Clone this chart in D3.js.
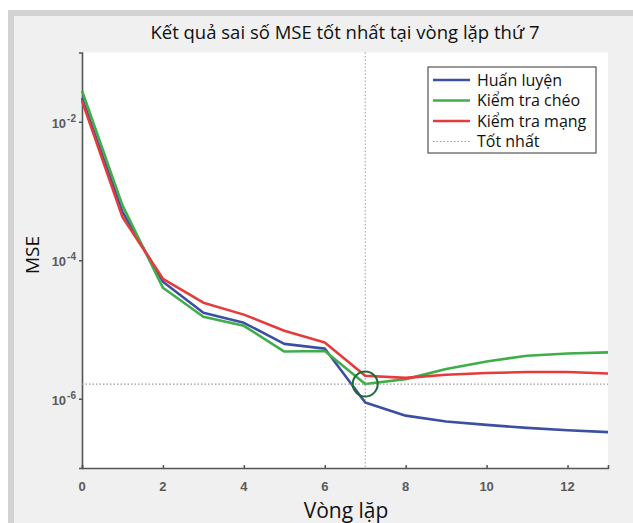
<!DOCTYPE html>
<html>
<head>
<meta charset="utf-8">
<script src="https://cdn.jsdelivr.net/npm/d3@7.9.0/dist/d3.min.js"></script>
<style>
  html, body { margin: 0; padding: 0; background: #fff; }
  svg { display: block; }
  .tick-label { font-family: "Liberation Sans", Arial, sans-serif; font-weight: bold; fill: #5a5a5a; }
  .txt { font-family: "Open Sans", "Noto Sans", sans-serif; fill: #111; }
</style>
</head>
<body>
<svg id="chart" width="633" height="523"></svg>
<script>
// epochs and MSE per dataset
const epochs = [0, 1, 2, 3, 4, 5, 6, 7, 8, 9, 10, 11, 12, 13];
const trainMSE = [2.2e-2, 5.0e-4, 4.9e-5, 1.75e-5, 1.25e-5, 6.2e-6, 5.3e-6, 8.8e-7, 5.7e-7, 4.7e-7, 4.2e-7, 3.8e-7, 3.5e-7, 3.3e-7];
const valMSE   = [2.8e-2, 6.2e-4, 4.0e-5, 1.53e-5, 1.13e-5, 4.8e-6, 4.9e-6, 1.63e-6, 1.92e-6, 2.69e-6, 3.46e-6, 4.18e-6, 4.5e-6, 4.67e-6];
const testMSE  = [2.0e-2, 4.2e-4, 5.4e-5, 2.44e-5, 1.64e-5, 9.6e-6, 6.5e-6, 2.15e-6, 2.0e-6, 2.22e-6, 2.35e-6, 2.43e-6, 2.43e-6, 2.32e-6];

const seriesNames = ['Huấn luyện', 'Kiểm tra chéo', 'Kiểm tra mạng', 'Tốt nhất'];
const seriesColors = ['#3d4fa3', '#3fae49', '#e63a3b', '#9a9a9a'];

const xTicks = [0, 2, 4, 6, 8, 10, 12];
const yTickExp = [-2, -4, -6];
const bestEpoch = 7;

const svg = d3.select('#chart');

// background frame
svg.append('rect').attr('x', 0).attr('y', 0).attr('width', 633).attr('height', 523).attr('fill', '#fff');
svg.append('rect')
  .attr('x', 11).attr('y', 13).attr('width', 640).attr('height', 530)
  .attr('fill', '#f0f0f0').attr('stroke', '#d3d3d3').attr('stroke-width', 6);

const plotL = 82, plotR = 608, plotT = 52.5, plotB = 468;

const x = d3.scaleLinear().domain([0, 13]).range([plotL, plotR]);
const y = d3.scaleLog().domain([1e-7, 1e-1]).range([plotB, plotT]);

// plot area
svg.append('rect')
  .attr('x', plotL).attr('y', plotT)
  .attr('width', plotR - plotL).attr('height', plotB - plotT)
  .attr('fill', '#fff');

// axes
const xAxis = d3.axisBottom(x).tickValues(xTicks).tickSize(-3).tickFormat('');
svg.append('g').attr('transform', `translate(0,${plotB})`).call(xAxis)
  .call(g => g.select('.domain').attr('stroke', '#555').attr('stroke-width', 1.6))
  .call(g => g.selectAll('.tick line').attr('stroke', '#555').attr('stroke-width', 1.5));

const yAxis = d3.axisLeft(y).tickValues(yTickExp.map(e => Math.pow(10, e))).tickSize(3).tickFormat('');
svg.append('g').attr('transform', `translate(${plotL},0)`).call(yAxis)
  .call(g => g.select('.domain').attr('stroke', '#555').attr('stroke-width', 1.6))
  .call(g => g.selectAll('.tick line').attr('stroke', '#555').attr('stroke-width', 1.5));

// tick labels
svg.append('g').selectAll('text').data(xTicks).join('text')
  .attr('class', 'tick-label')
  .attr('x', d => x(d)).attr('y', 491)
  .attr('text-anchor', 'middle').attr('font-size', 13)
  .text(d => d);

const yl = svg.append('g').selectAll('text').data(yTickExp).join('text')
  .attr('class', 'tick-label')
  .attr('x', 76).attr('y', d => y(Math.pow(10, d)) + 6)
  .attr('text-anchor', 'end')
  .attr('font-size', 13);
yl.append('tspan').text('10');
yl.append('tspan').attr('dx', 1).attr('dy', -6).attr('font-size', 10).text(d => d);

// best guides
const bestVal = valMSE[epochs.indexOf(bestEpoch)];
svg.append('line')
  .attr('x1', x(bestEpoch)).attr('x2', x(bestEpoch))
  .attr('y1', plotT).attr('y2', plotB)
  .attr('stroke', seriesColors[3]).attr('stroke-width', 1).attr('stroke-dasharray', '1.5,2');

// lines
const line = d3.line().x((d, i) => x(epochs[i])).y(d => y(d));
[trainMSE, valMSE, testMSE].forEach((s, i) => {
  svg.append('path').datum(s)
    .attr('d', line)
    .attr('fill', 'none')
    .attr('stroke', seriesColors[i])
    .attr('stroke-width', 2.6)
    .attr('stroke-linejoin', 'round');
});

svg.append('line')
  .attr('x1', plotL).attr('x2', plotR)
  .attr('y1', y(bestVal)).attr('y2', y(bestVal))
  .attr('stroke', seriesColors[3]).attr('stroke-width', 1.2).attr('stroke-dasharray', '1.5,2');

svg.append('circle')
  .attr('cx', x(bestEpoch)).attr('cy', y(bestVal)).attr('r', 12.5)
  .attr('fill', 'none').attr('stroke', '#1f6b35').attr('stroke-width', 2);

// legend
const lg = svg.append('g');
lg.append('rect')
  .attr('x', 428).attr('y', 67).attr('width', 168).attr('height', 86)
  .attr('fill', '#fff').attr('stroke', '#555').attr('stroke-width', 1.2);
seriesNames.forEach((name, i) => {
  const ly = 80 + i * 20.5;
  lg.append('line')
    .attr('x1', 433).attr('x2', 470).attr('y1', ly).attr('y2', ly)
    .attr('stroke', seriesColors[i])
    .attr('stroke-width', i < 3 ? 2.6 : 1.2)
    .attr('stroke-dasharray', i < 3 ? null : '1.5,2');
  lg.append('text').attr('class', 'txt')
    .attr('x', 477).attr('y', ly + 5.5)
    .attr('font-size', 16).text(name);
});

// title and axis labels
svg.append('text').attr('class', 'txt')
  .attr('x', 345).attr('y', 39).attr('text-anchor', 'middle')
  .attr('font-size', 18.5).text('Kết quả sai số MSE tốt nhất tại vòng lặp thứ 7');

svg.append('text').attr('class', 'txt')
  .attr('transform', 'translate(39,255) rotate(-90)')
  .attr('text-anchor', 'middle').attr('font-size', 19).text('MSE');

svg.append('text').attr('class', 'txt')
  .attr('x', 346).attr('y', 518).attr('text-anchor', 'middle')
  .attr('font-size', 21).text('Vòng lặp');
</script>
</body>
</html>
